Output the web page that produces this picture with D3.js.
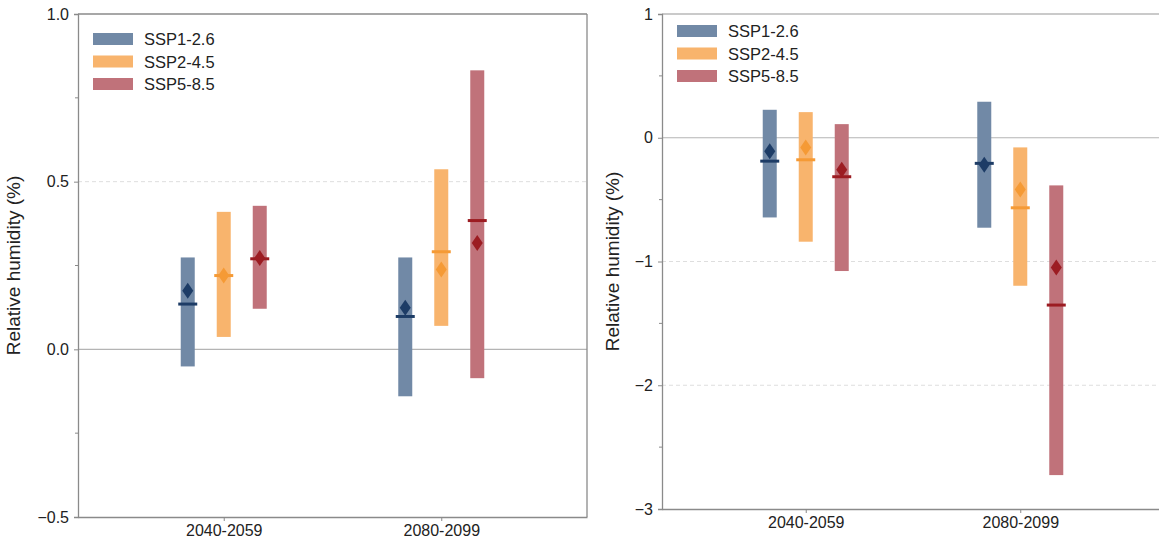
<!DOCTYPE html>
<html>
<head>
<meta charset="utf-8">
<script src="https://cdn.jsdelivr.net/npm/d3@7"></script>
<style>
body { margin: 0; background: #fff; }
text { font-family: "Liberation Sans", Arial, sans-serif; fill: #222; }
</style>
</head>
<body>
<div id="chart"></div>
<script>
// periods and scenarios
const periods = ["2040-2059", "2080-2099"];
const scenarios = ["SSP1-2.6", "SSP2-4.5", "SSP5-8.5"];
const barColors = ["#7189a6", "#f8b46d", "#c0727a"];
const lineColors = ["#1d3c66", "#f59a35", "#9c1c22"];

// left panel, one row per scenario, one value per period
const leftLow =    [[-0.051, -0.14], [0.037, 0.07], [0.121, -0.086]];
const leftHigh =   [[0.274, 0.274], [0.41, 0.537], [0.428, 0.832]];
const leftMedian = [[0.135, 0.098], [0.22, 0.291], [0.27, 0.384]];
const leftMean =   [[0.175, 0.124], [0.22, 0.238], [0.272, 0.317]];

// right panel
const rightLow =    [[-0.644, -0.727], [-0.84, -1.196], [-1.077, -2.726]];
const rightHigh =   [[0.226, 0.291], [0.207, -0.078], [0.11, -0.385]];
const rightMedian = [[-0.189, -0.207], [-0.178, -0.566], [-0.315, -1.352]];
const rightMean =   [[-0.11, -0.218], [-0.078, -0.418], [-0.259, -1.048]];

const leftTicks = [-0.5, 0.0, 0.5, 1.0];
const leftMinor = [-0.25, 0.25, 0.75];
const rightTicks = [-3, -2, -1, 0, 1];
const rightMinor = [-2.5, -1.5, -0.5, 0.5];

const svg = d3.select("#chart").append("svg")
    .attr("width", 1159)
    .attr("height", 541);

function panel(opts) {
    const g = svg.append("g").attr("transform", `translate(${opts.left}, ${opts.top})`);
    const w = opts.width, h = opts.height;

    const x = d3.scalePoint().domain(periods).range([0, w]).padding(0.67);
    const y = d3.scaleLinear().domain(opts.domain).range([h, 0]);
    const offset = 36, bw = 14;

    // grid lines
    g.selectAll(".grid")
        .data(opts.ticks.filter(t => t !== opts.domain[0] && t !== opts.domain[1]))
        .join("line")
        .attr("x1", 0).attr("x2", w)
        .attr("y1", d => y(d)).attr("y2", d => y(d))
        .attr("stroke", d => d === 0 ? "#b4b4b4" : "#dedede")
        .attr("stroke-width", d => d === 0 ? 1.2 : 1)
        .attr("stroke-dasharray", d => d === 0 ? null : "4,3");

    // bars
    scenarios.forEach((s, i) => {
        const sg = g.append("g");
        sg.selectAll("rect")
            .data(periods)
            .join("rect")
            .attr("x", (d, j) => x(d) + (i - 1) * offset - bw / 2)
            .attr("y", (d, j) => y(opts.high[i][j]))
            .attr("width", bw)
            .attr("height", (d, j) => y(opts.low[i][j]) - y(opts.high[i][j]))
            .attr("fill", barColors[i]);
        sg.selectAll("line")
            .data(periods)
            .join("line")
            .attr("x1", (d, j) => x(d) + (i - 1) * offset - 9.5)
            .attr("x2", (d, j) => x(d) + (i - 1) * offset + 9.5)
            .attr("y1", (d, j) => y(opts.median[i][j]))
            .attr("y2", (d, j) => y(opts.median[i][j]))
            .attr("stroke", lineColors[i])
            .attr("stroke-width", 3);
        sg.selectAll("path")
            .data(periods)
            .join("path")
            .attr("transform", (d, j) => `translate(${x(d) + (i - 1) * offset}, ${y(opts.mean[i][j])})`)
            .attr("d", "M0,-8L5.5,0L0,8L-5.5,0Z")
            .attr("fill", lineColors[i]);
    });

    // frame
    const fr = "#8a8a8a";
    g.append("line").attr("x1", 0).attr("x2", w).attr("y1", 0).attr("y2", 0)
        .attr("stroke", opts.frameTop || fr).attr("stroke-width", 1.3);
    g.append("line").attr("x1", w).attr("x2", w).attr("y1", 0).attr("y2", h)
        .attr("stroke", fr).attr("stroke-width", 1.3);

    // axes
    const yAxis = g.append("g")
        .call(d3.axisLeft(y).tickValues(opts.ticks).tickFormat(opts.fmt).tickSize(4).tickPadding(5));
    yAxis.select(".domain").attr("stroke", fr).attr("stroke-width", 1.3);
    yAxis.selectAll(".tick line").attr("stroke", fr);
    yAxis.selectAll("text").style("font-size", "16px").attr("fill", "#222");
    g.append("g").selectAll("line")
        .data(opts.minor)
        .join("line")
        .attr("x1", -3).attr("x2", 0)
        .attr("y1", d => y(d)).attr("y2", d => y(d))
        .attr("stroke", fr);

    const xAxis = g.append("g")
        .attr("transform", `translate(0, ${h})`)
        .call(d3.axisBottom(x).tickSize(4).tickPadding(4).tickSizeOuter(0));
    xAxis.select(".domain").attr("stroke", fr).attr("stroke-width", 1.3);
    xAxis.selectAll(".tick line").attr("stroke", fr);
    xAxis.selectAll("text").style("font-size", "16px").attr("fill", "#222");

    g.append("text")
        .attr("transform", `translate(${opts.labelX}, ${h / 2}) rotate(-90)`)
        .attr("text-anchor", "middle")
        .style("font-size", "19px")
        .text("Relative humidity (%)");

    // legend
    const lg = g.append("g").attr("transform", `translate(${opts.legX}, ${opts.legY})`);
    scenarios.forEach((s, i) => {
        lg.append("rect")
            .attr("x", 0).attr("y", i * 22.5)
            .attr("width", 40).attr("height", 12)
            .attr("fill", barColors[i]);
        lg.append("text")
            .attr("x", 51).attr("y", i * 22.5 + 12)
            .style("font-size", "16.5px")
            .text(s);
    });
}

panel({
    left: 78, top: 14, width: 509, height: 503,
    domain: [-0.5, 1.0], ticks: leftTicks, minor: leftMinor,
    fmt: d => d < 0 ? "\u2212" + Math.abs(d).toFixed(1) : d.toFixed(1),
    low: leftLow, high: leftHigh, median: leftMedian, mean: leftMean,
    labelX: -58, legX: 15, legY: 19
});

panel({
    left: 662, top: 14, width: 502, height: 495,
    domain: [-3, 1], ticks: rightTicks, minor: rightMinor,
    fmt: d => d < 0 ? "\u2212" + Math.abs(d) : String(d),
    low: rightLow, high: rightHigh, median: rightMedian, mean: rightMean,
    labelX: -43, legX: 15, legY: 11, frameTop: "#b8b8b8"
});
</script>
</body>
</html>
